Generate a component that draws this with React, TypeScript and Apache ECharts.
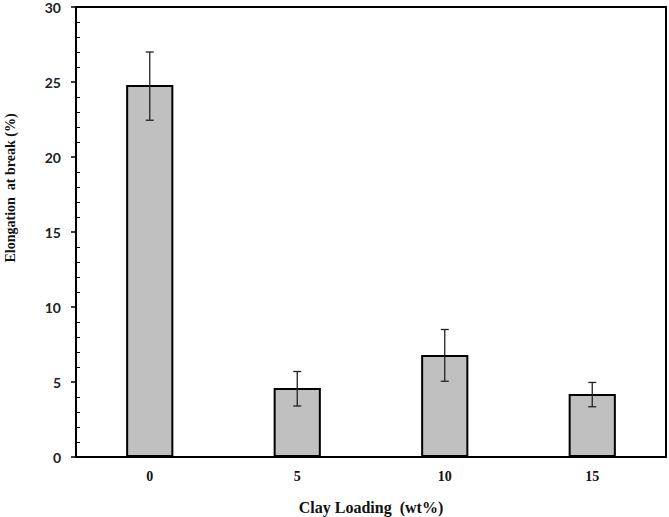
import React, { useEffect, useRef } from "react";
import * as echarts from "echarts";

const categories = ["0", "5", "10", "15"];
const elongation = [24.8, 4.6, 6.8, 4.2];
const errLow = [22.45, 3.4, 5.05, 3.35];
const errHigh = [27.0, 5.7, 8.5, 4.97];
const yTicks = { min: 0, max: 30, interval: 5 };

const FONT = "'Liberation Serif', 'Times New Roman', serif";
const SANS = "Lato, Carlito, Calibri, sans-serif";

export default function App() {
  const ref = useRef<HTMLDivElement>(null);
  useEffect(() => {
    if (!ref.current) return;
    const chart = echarts.init(ref.current, undefined, { renderer: "svg" });
    const errData = categories.map((c, i) => [i, errLow[i], errHigh[i]]);
    chart.setOption({
      animation: false,
      backgroundColor: "#ffffff",
      grid: {
        left: 76,
        right: 3,
        top: 7,
        bottom: 60,
        containLabel: false,
        outerBoundsMode: "none",
        show: true,
        borderColor: "#000",
        borderWidth: 2,
      },
      xAxis: {
        type: "category",
        data: categories,
        boundaryGap: true,
        axisLine: { lineStyle: { color: "#000", width: 2 } },
        axisTick: { show: false },
        axisLabel: {
          fontFamily: FONT,
          fontWeight: "bold",
          fontSize: 14,
          color: "#111",
          margin: 12,
        },
        name: "Clay Loading  (wt%)",
        nameLocation: "middle",
        nameGap: 42,
        nameTextStyle: {
          fontFamily: FONT,
          fontWeight: "bold",
          fontSize: 16,
          color: "#111",
        },
      },
      yAxis: [
        {
          type: "value",
          min: yTicks.min,
          max: yTicks.max,
          interval: yTicks.interval,
          axisLine: { show: true, lineStyle: { color: "#000", width: 2 } },
          axisTick: { show: true, length: 5, lineStyle: { color: "#000", width: 1.5 } },
          splitLine: { show: false },
          axisLabel: {
            fontFamily: SANS,
            fontWeight: "bold",
            fontSize: 14,
            color: "#222",
            margin: 15,
          },
          name: "Elongation  at break (%)",
          nameLocation: "middle",
          nameGap: 59,
          nameTextStyle: {
            fontFamily: FONT,
            fontWeight: "bold",
            fontSize: 14,
            color: "#111",
            padding: [0, 0, 0, 88],
          },
        },
        {
          type: "value",
          position: "left",
          min: yTicks.min,
          max: yTicks.max,
          interval: yTicks.interval,
          axisLine: { show: false },
          axisTick: { show: false, inside: true },
          minorTick: { show: true, splitNumber: 5, length: 4, lineStyle: { color: "#000", width: 1 } },
          axisLabel: { show: false },
          splitLine: { show: false },
        },
      ],
      series: [
        {
          type: "bar",
          data: elongation,
          barWidth: "32%",
          itemStyle: { color: "#c0c0c0", borderColor: "#000", borderWidth: 2 },
        },
        {
          type: "custom",
          data: errData,
          z: 10,
          renderItem: (params: any, api: any) => {
            const x = api.value(0);
            const lo = api.coord([x, api.value(1)]);
            const hi = api.coord([x, api.value(2)]);
            const hw = 4;
            const style = { stroke: "#222", lineWidth: 1.3 };
            return {
              type: "group",
              children: [
                { type: "line", shape: { x1: hi[0], y1: hi[1], x2: lo[0], y2: lo[1] }, style },
                { type: "line", shape: { x1: hi[0] - hw, y1: hi[1], x2: hi[0] + hw, y2: hi[1] }, style },
                { type: "line", shape: { x1: lo[0] - hw, y1: lo[1], x2: lo[0] + hw, y2: lo[1] }, style },
              ],
            };
          },
        },
      ],
    });
    return () => chart.dispose();
  }, []);
  return (
    <div
      ref={ref}
      style={{ position: "fixed", left: 0, top: 0, width: 669, height: 517 }}
    />
  );
}
